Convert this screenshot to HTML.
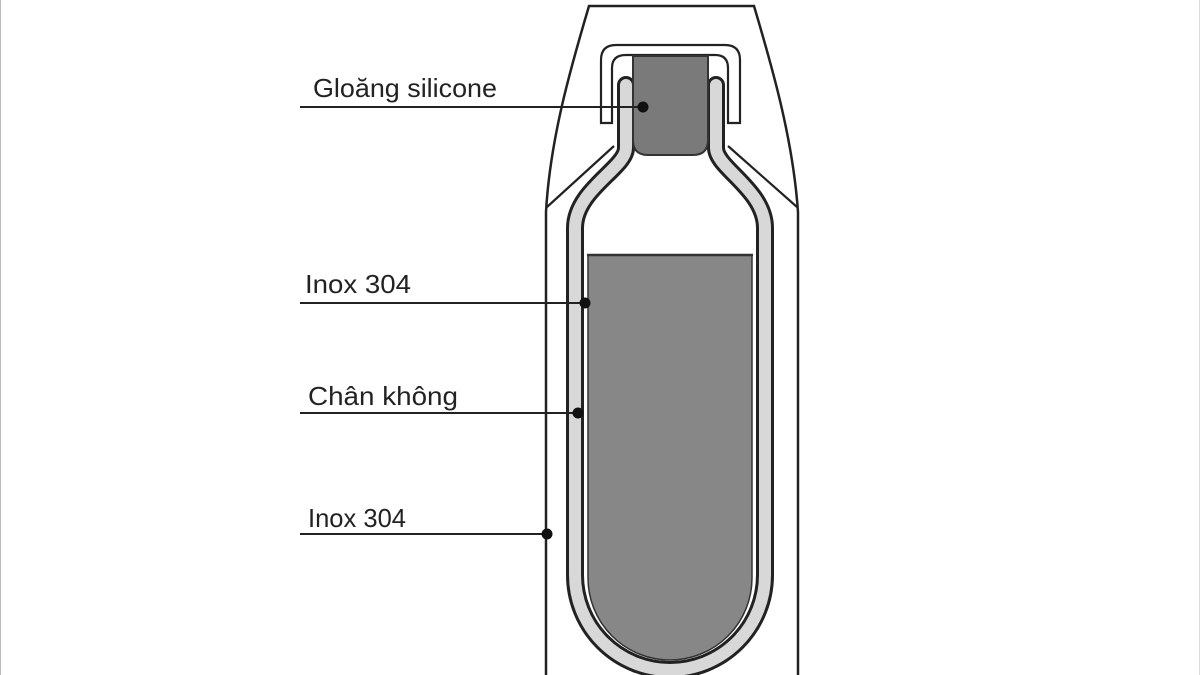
<!DOCTYPE html>
<html><head><meta charset="utf-8"><style>
html,body{margin:0;padding:0;background:#fff;}
svg{display:block;}
text{font-family:"Liberation Sans",sans-serif;font-size:26px;fill:#222;}
</style></head><body>
<svg width="1200" height="675" viewBox="0 0 1200 675" xmlns="http://www.w3.org/2000/svg">
<rect x="0" y="0" width="1200" height="675" fill="#fff"/>
<line x1="0.5" y1="0" x2="0.5" y2="675" stroke="#bbb" stroke-width="1"/>
<line x1="1199.5" y1="0" x2="1199.5" y2="675" stroke="#ddd" stroke-width="1"/>
<!-- outer shell -->
<path d="M546,675 V212 C550,140 570,70 589,6 H754 C773,70 793,140 798,212 V675" fill="none" stroke="#222" stroke-width="2.5"/>
<path d="M547,207 L614,146 M797,207 L728,146" stroke="#222" stroke-width="2.2" fill="none"/>
<!-- cap -->
<path d="M601,123 V60 Q601,45 616,45 H725 Q740,45 740,60 V123 H728 V68 Q728,55 715,55 H626 Q612,55 612,68 V123 Z" fill="#fff" stroke="#222" stroke-width="2.2"/>
<!-- bottle walls -->
<path d="M626,85 L626,148 C626,168 575,190 575,228 L575,575 A95,95 0 0 0 765,575 L765,228 C765,190 716,168 716,148 L716,85" fill="#fff" stroke="#222" stroke-width="18" stroke-linecap="round"/>
<path d="M626,85 L626,148 C626,168 575,190 575,228 L575,575 A95,95 0 0 0 765,575 L765,228 C765,190 716,168 716,148 L716,85" fill="none" stroke="#d8d8d8" stroke-width="12" stroke-linecap="round"/>
<!-- liquid -->
<path d="M588,255 H752 V578 A82,82 0 0 1 588,578 Z" fill="#878787" stroke="#333" stroke-width="1.5"/>
<line x1="587" y1="255" x2="753" y2="255" stroke="#333" stroke-width="2.5"/>
<!-- plug -->
<path d="M633,56 H708 V140 Q708,155 693,155 H648 Q633,155 633,140 Z" fill="#7a7a7a" stroke="#333" stroke-width="2"/>
<!-- labels -->
<text x="313" y="97" textLength="184" lengthAdjust="spacingAndGlyphs">Gloăng silicone</text>
<line x1="300" y1="107" x2="643" y2="107" stroke="#222" stroke-width="2"/>
<circle cx="643" cy="107" r="5.5" fill="#111"/>
<text x="305" y="293" textLength="106" lengthAdjust="spacingAndGlyphs">Inox 304</text>
<line x1="300" y1="303" x2="585" y2="303" stroke="#222" stroke-width="2"/>
<circle cx="585" cy="303" r="5.5" fill="#111"/>
<text x="308" y="405" textLength="150" lengthAdjust="spacingAndGlyphs">Chân không</text>
<line x1="300" y1="413" x2="578" y2="413" stroke="#222" stroke-width="2"/>
<circle cx="578" cy="413" r="5.5" fill="#111"/>
<text x="308" y="527" textLength="98" lengthAdjust="spacingAndGlyphs">Inox 304</text>
<line x1="300" y1="534" x2="547" y2="534" stroke="#222" stroke-width="2"/>
<circle cx="547" cy="534" r="5.5" fill="#111"/>
</svg>
</body></html>
